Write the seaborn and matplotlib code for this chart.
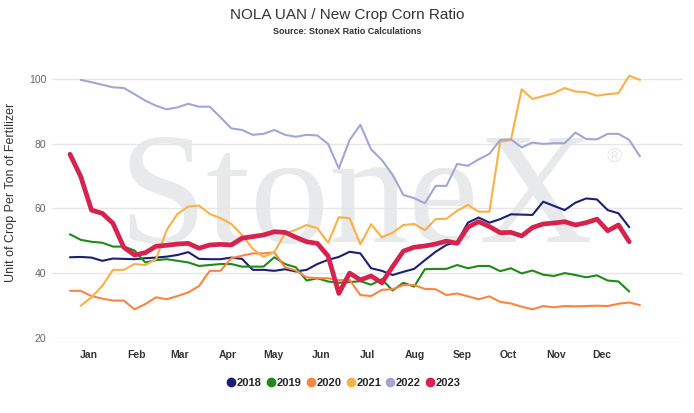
import pandas as pd
import matplotlib
matplotlib.use("Agg")
import matplotlib.pyplot as plt
import seaborn as sns
from matplotlib.lines import Line2D

# === data (weekly ratio) ===
years = ["2018", "2019", "2020", "2021", "2022", "2023"]
colors = ["#1c1f75", "#1f8a16", "#fb8443", "#f9b146", "#a3a6d4", "#d5234d"]
first_week = [0, 0, 0, 1, 1, 0]

ratio_2018 = [44.9, 45.0, 44.8, 43.8, 44.5, 44.4, 44.3, 44.6, 44.8, 45.1,
              45.6, 46.5, 44.4, 44.3, 44.3, 44.8, 44.4, 41.0, 41.0, 40.7,
              41.2, 40.5, 41.0, 42.8, 44.1, 45.0, 46.6, 46.1, 41.5, 40.7,
              39.4, 40.4, 41.3, 44.0, 46.6, 48.7, 49.7, 55.6, 57.2, 55.6,
              56.7, 58.2, 58.1, 58.0, 62.1, 60.8, 59.5, 61.8, 63.1, 62.8,
              59.5, 58.5, 54.2]
ratio_2019 = [52.0, 50.3, 49.7, 49.4, 48.2, 48.2, 47.0, 43.3, 44.0, 44.3,
              43.8, 43.3, 42.2, 42.5, 42.8, 42.8, 42.0, 42.0, 42.0, 44.9,
              42.8, 41.8, 37.7, 38.4, 37.4, 37.0, 37.2, 37.5, 36.4, 38.1,
              34.6, 37.0, 35.8, 41.2, 41.3, 41.3, 42.5, 41.5, 42.2, 42.2,
              40.6, 41.5, 39.9, 40.8, 39.5, 39.1, 40.0, 39.4, 38.7, 39.3,
              37.7, 37.4, 34.3]
ratio_2020 = [34.5, 34.5, 32.9, 32.1, 31.5, 31.5, 28.8, 30.4, 32.5, 31.9,
              32.9, 34.0, 36.0, 40.7, 40.7, 44.6, 45.4, 46.1, 46.1, 46.4,
              41.8, 40.8, 38.7, 38.4, 38.4, 37.8, 37.9, 33.2, 32.9, 34.8,
              35.0, 36.3, 36.3, 35.1, 35.0, 33.2, 33.7, 32.8, 31.9, 32.8,
              31.1, 30.6, 29.6, 28.8, 29.8, 29.4, 29.8, 29.7, 29.8, 29.9,
              29.8, 30.5, 30.9, 30.1]
ratio_2021 = [29.9, 32.5, 36.0, 41.0, 41.0, 42.8, 42.5, 44.3, 53.4, 58.3,
              60.6, 60.9, 58.3, 57.0, 55.2, 51.8, 47.5, 45.0, 46.5, 52.3,
              53.4, 54.9, 53.9, 49.4, 57.3, 57.0, 48.9, 55.1, 51.1, 52.5,
              54.9, 55.2, 53.3, 56.7, 56.8, 59.3, 61.1, 59.0, 59.0, 80.7,
              81.2, 96.9, 93.9, 94.8, 95.7, 97.3, 96.2, 96.0, 94.9, 95.4,
              95.7, 101.1, 99.8]
ratio_2022 = [99.8, 99.1, 98.3, 97.5, 97.3, 95.4, 93.4, 91.8, 90.7, 91.3,
              92.4, 91.5, 91.5, 88.2, 84.8, 84.3, 82.8, 83.1, 84.3, 82.8,
              82.2, 82.8, 82.6, 80.0, 72.4, 81.2, 85.9, 78.3, 75.0, 70.4,
              64.2, 63.2, 61.6, 67.0, 67.0, 73.8, 73.2, 75.2, 76.9, 81.2,
              81.4, 78.9, 80.4, 80.0, 80.2, 80.2, 83.5, 81.5, 81.4, 83.1,
              83.1, 81.2, 76.1]
ratio_2023 = [76.8, 69.9, 59.5, 58.5, 55.4, 48.0, 45.6, 46.3, 48.3, 48.6,
              49.0, 49.2, 47.7, 48.7, 48.9, 48.7, 50.8, 51.3, 51.8, 52.8,
              52.6, 51.1, 49.7, 49.2, 45.3, 33.7, 40.0, 37.9, 39.1, 37.0,
              42.0, 46.8, 48.0, 48.4, 49.0, 49.9, 49.2, 54.2, 55.9, 54.4,
              52.5, 52.6, 51.5, 54.1, 55.2, 55.5, 55.9, 54.9, 55.6, 56.7,
              53.1, 54.9, 49.7]

months = ["Jan", "Feb", "Mar", "Apr", "May", "Jun",
          "Jul", "Aug", "Sep", "Oct", "Nov", "Dec"]
month_start_day = [0, 31, 59, 90, 120, 151, 181, 212, 243, 273, 304, 334]
jan1_week = 1.77

series = [ratio_2018, ratio_2019, ratio_2020, ratio_2021, ratio_2022, ratio_2023]
rows = []
for yr, start, vals in zip(years, first_week, series):
    for i, v in enumerate(vals):
        rows.append({"week": start + i, "ratio": v, "year": yr})
df = pd.DataFrame(rows)

# === style ===
sns.set_style("white")
plt.rcParams["font.family"] = ["Liberation Sans", "DejaVu Sans"]

fig = plt.figure(figsize=(6.94, 4.13), dpi=100)
ax = fig.add_axes([52 / 694, 1 - 337.7 / 413, 631 / 694, (337.7 - 72.8) / 413])

# watermark
ax.text(356 / 694, 1 - 242 / 413, "StoneX", transform=fig.transFigure,
        ha="center", va="baseline", fontsize=114, family="Liberation Serif",
        color="#e8e9eb", zorder=0)
ax.text(614 / 694, 1 - 156 / 413, "\u00ae", transform=fig.transFigure,
        ha="center", va="center", fontsize=15, color="#e8e9eb", zorder=0)

for yr, col in zip(years, colors):
    sns.lineplot(data=df[df["year"] == yr], x="week", y="ratio", color=col,
                 linewidth=3.4 if yr == "2023" else 1.5, estimator=None,
                 ax=ax, legend=False, clip_on=False, zorder=3)

ax.set_xlim(-1.67, 57.0)
ax.set_ylim(20, 102)
ax.set_yticks([20, 40, 60, 80, 100])
ax.set_xticks([jan1_week + d / 7 for d in month_start_day])
ax.set_xticklabels(months, fontsize=7.5, fontweight="bold", color="#333333")
ax.tick_params(axis="x", length=0, pad=9)
ax.tick_params(axis="y", length=0, pad=4, labelsize=7.5, labelcolor="#666666")
ax.grid(axis="y", color="#e6e6e6", linewidth=1)
ax.grid(axis="x", visible=False)
for sp in ax.spines.values():
    sp.set_visible(False)
ax.set_xlabel("")
ax.set_ylabel("Unit of Crop Per Ton of Fertilizer", fontsize=9, color="#333333")
ax.yaxis.set_label_coords(-0.056, 0.55)

fig.text(0.5, 1 - 15 / 413, "NOLA UAN / New Crop Corn Ratio",
         ha="center", va="center", fontsize=11, color="#333333")
fig.text(0.5, 1 - 31 / 413, "Source: StoneX Ratio Calculations",
         ha="center", va="center", fontsize=6.5, fontweight="bold", color="#333333")

handles = [Line2D([], [], marker="o", linestyle="", markersize=6, color=c) for c in colors]
fig.legend(handles, years, loc="center", bbox_to_anchor=(344 / 694, 1 - 383 / 413),
           ncol=6, frameon=False, handlelength=0.7, handletextpad=0.15,
           columnspacing=0.5, prop={"weight": "bold", "size": 8})

fig.savefig("out.png", dpi=100)
